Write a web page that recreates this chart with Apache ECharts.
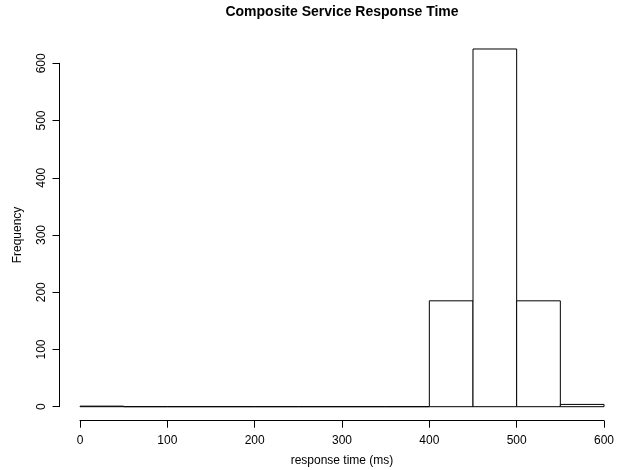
<!DOCTYPE html>
<html>
<head>
<meta charset="utf-8">
<script src="https://cdn.jsdelivr.net/npm/echarts@6/dist/echarts.min.js"></script>
<style>html,body{margin:0;padding:0;background:#fff;}#chart{width:623px;height:470px;}</style>
</head>
<body>
<div id="chart"></div>
<script>
var binStarts = [0, 50, 100, 150, 200, 250, 300, 350, 400, 450, 500, 550];
var binEnds   = [50, 100, 150, 200, 250, 300, 350, 400, 450, 500, 550, 600];
var counts    = [1, 0, 0, 0, 0, 0, 0, 0, 185, 625, 185, 4];
var xTicks = [0, 100, 200, 300, 400, 500, 600];
var yTicks = [0, 100, 200, 300, 400, 500, 600];
var titleText = 'Composite Service Response Time';
var xLabel = 'response time (ms)';
var yLabel = 'Frequency';

var data = binStarts.map(function (s, i) { return [s, binEnds[i], counts[i]]; });
var font = 'Liberation Sans, Arial, Helvetica, sans-serif';

var chart = echarts.init(document.getElementById('chart'), null, {renderer: 'canvas'});
chart.setOption({
  animation: false,
  backgroundColor: '#ffffff',
  grid: {left: 80, right: 19, top: 63.3, bottom: 63.3, containLabel: false, outerBoundsMode: 'none'},
  xAxis: {
    type: 'value', min: xTicks[0], max: xTicks[xTicks.length - 1], interval: 100,
    offset: 14,
    axisLine: {show: true, onZero: false, lineStyle: {color: '#000', width: 1}},
    axisTick: {show: true, length: 7, lineStyle: {color: '#000'}},
    axisLabel: {color: '#000', fontSize: 12, fontFamily: font, margin: 14},
    splitLine: {show: false},
    name: xLabel, nameLocation: 'middle', nameGap: 34,
    nameTextStyle: {color: '#000', fontSize: 12, fontFamily: font}
  },
  yAxis: {
    type: 'value', min: yTicks[0], max: yTicks[yTicks.length - 1], interval: 100,
    offset: 20.5,
    axisLine: {show: true, onZero: false, lineStyle: {color: '#000', width: 1}},
    axisTick: {show: true, length: 7, lineStyle: {color: '#000'}},
    axisLabel: {color: '#000', fontSize: 12, fontFamily: font, rotate: 90, margin: 12, align: 'center', verticalAlign: 'bottom'},
    splitLine: {show: false},
    name: yLabel, nameLocation: 'middle', nameGap: 36, nameRotate: 90,
    nameTextStyle: {color: '#000', fontSize: 12, fontFamily: font}
  },
  graphic: [{
    type: 'text', x: 342, y: 12,
    style: {text: titleText, font: 'bold 14px ' + font, fill: '#000', textAlign: 'center', textVerticalAlign: 'middle'}
  }],
  series: [{
    type: 'custom',
    data: data,
    encode: {x: [0, 1], y: 2},
    renderItem: function (params, api) {
      var p0 = api.coord([api.value(0), 0]);
      var p1 = api.coord([api.value(1), api.value(2)]);
      return {
        type: 'rect',
        shape: {x: p0[0], y: p1[1], width: p1[0] - p0[0], height: p0[1] - p1[1]},
        style: {fill: '#fff', stroke: '#000', lineWidth: 1}
      };
    }
  }]
});
</script>
</body>
</html>
